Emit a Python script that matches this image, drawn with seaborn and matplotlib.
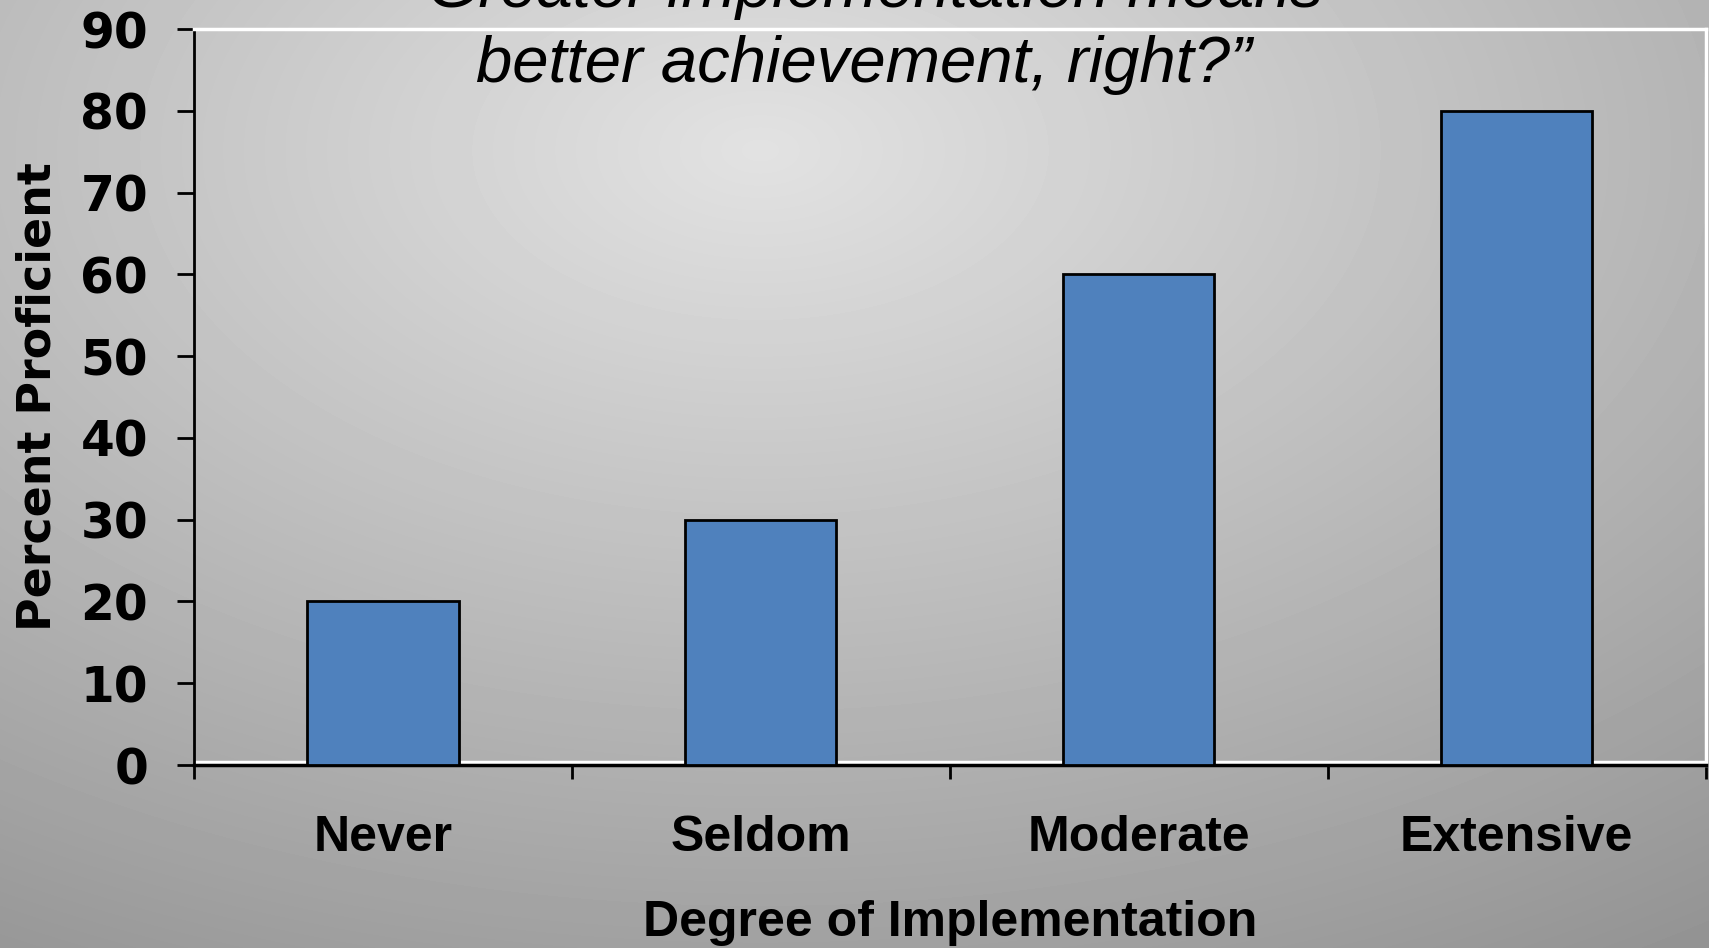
import numpy as np
import matplotlib
matplotlib.use('Agg')
import matplotlib.pyplot as plt
import matplotlib.transforms as mtransforms
from matplotlib.lines import Line2D
import seaborn as sns

# Data
categories = ['Never', 'Seldom', 'Moderate', 'Extensive']
percent_proficient = [20, 30, 60, 80]
y_ticks = list(range(0, 100, 10))
title_lines = ['\u201cGreater implementation means', 'better achievement, right?\u201d']

sns.set_style('white')
plt.rcParams['text.color'] = 'black'
plt.rcParams['axes.labelcolor'] = 'black'
plt.rcParams['xtick.color'] = 'black'
plt.rcParams['ytick.color'] = 'black'

fig = plt.figure(figsize=(17.09, 9.48), dpi=100)

# Slide background (soft radial gradient, light near top centre)
bg = fig.add_axes([0, 0, 1, 1], zorder=-10)
h, w = 948, 1709
yy, xx = np.mgrid[0:h, 0:w]
dist = np.sqrt((xx - 760) ** 2 + (1.7 * (yy - 150)) ** 2)
shade = np.clip(226 - 0.048 * dist, 0, 255) / 255
bg.imshow(shade, cmap='gray', vmin=0, vmax=1, aspect='auto', interpolation='bilinear')
bg.axis('off')

# Chart axes
ax = fig.add_axes([0.1135, 0.193, 0.8845, 0.7764])
ax.patch.set_visible(False)

sns.barplot(x=categories, y=percent_proficient, color='#4f81bd', saturation=1,
            edgecolor='black', linewidth=2, width=0.4, ax=ax, zorder=3)

ax.set_xlim(-0.5, len(categories) - 0.5)
ax.set_ylim(0, 90)
ax.set_yticks(y_ticks)

# Frame: black left/bottom, white top/right, white line just above the base
for side in ['top', 'right']:
    ax.spines[side].set_color('white')
    ax.spines[side].set_linewidth(2.5)
ax.spines['left'].set_color('black')
ax.spines['left'].set_linewidth(2)
ax.spines['bottom'].set_color('black')
ax.spines['bottom'].set_linewidth(2.5)
offset = ax.transAxes + mtransforms.ScaledTranslation(0, 3.5 / 100, fig.dpi_scale_trans)
ax.add_line(Line2D([0, 1], [0, 0], transform=offset, color='white', lw=2.5, zorder=1))

# Ticks
ax.tick_params(axis='y', left=True, direction='out', length=12, width=2,
               color='black', pad=21)
ax.set_xticks(np.arange(-0.5, len(categories), 1), minor=True)
ax.tick_params(axis='x', which='major', length=0, pad=36)
ax.tick_params(axis='x', which='minor', bottom=True, direction='out', length=10,
               width=2, color='black')

for lbl in ax.get_yticklabels():
    lbl.set_fontfamily('DejaVu Sans')
    lbl.set_fontweight('bold')
    lbl.set_fontsize(35)
for lbl in ax.get_xticklabels():
    lbl.set_fontfamily('Liberation Sans')
    lbl.set_fontweight('bold')
    lbl.set_fontsize(36)

ax.set_ylabel('Percent Proficient', fontsize=33, fontweight='bold', family='DejaVu Sans')
ax.yaxis.set_label_coords(-0.1035, 0.5)
ax.yaxis.label.set_va('center')

ax.set_xlabel('Degree of Implementation', fontsize=36, fontweight='bold', family='Liberation Sans')
ax.xaxis.set_label_coords(0.5, -0.184)

# Slide title (partly cut off at the top)
fig.text(0.5056, 0.9926, title_lines[0], ha='center', va='baseline', fontsize=47,
         style='italic', family='Liberation Sans')
fig.text(0.5056, 0.9135, title_lines[1], ha='center', va='baseline', fontsize=47,
         style='italic', family='Liberation Sans')

fig.savefig('out.png', dpi=100)
